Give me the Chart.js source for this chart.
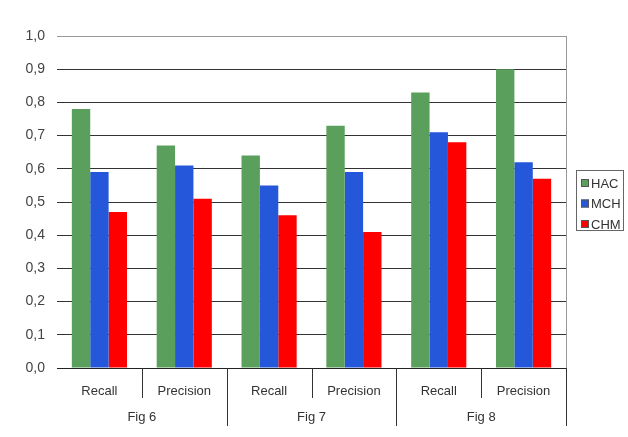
<!DOCTYPE html>
<html>
<head>
<meta charset="utf-8">
<script src="https://cdn.jsdelivr.net/npm/chart.js@4/dist/chart.umd.min.js"></script>
<style>
  html, body { margin: 0; padding: 0; background: #fff; }
  #wrap { width: 628px; height: 437px; }
</style>
</head>
<body>
<div id="wrap"><canvas id="c" width="628" height="437"></canvas></div>
<script>
// Sub-categories (inner axis row) and the figure each pair belongs to (outer row)
const categories = ['Recall', 'Precision', 'Recall', 'Precision', 'Recall', 'Precision'];
const groups = ['Fig 6', 'Fig 7', 'Fig 8'];

// Scores per method
const hac = [0.78, 0.67, 0.64, 0.73, 0.83, 0.90];
const mch = [0.59, 0.61, 0.55, 0.59, 0.71, 0.62];
const chm = [0.47, 0.51, 0.46, 0.41, 0.68, 0.57];

const yTicks = [0, 0.1, 0.2, 0.3, 0.4, 0.5, 0.6, 0.7, 0.8, 0.9, 1.0];

const FONT = '"Liberation Sans", Arial, sans-serif';

// Two-level category axis: separators below the axis and the group names
const groupAxis = {
  id: 'groupAxis',
  afterDraw(chart) {
    const { ctx, chartArea } = chart;
    const x = chart.scales.x;
    const n = categories.length;
    const bound = i => {
      if (i === 0) return chartArea.left;
      if (i === n) return chartArea.right;
      return (x.getPixelForValue(i - 1) + x.getPixelForValue(i)) / 2;
    };
    ctx.save();
    ctx.strokeStyle = '#333';
    ctx.lineWidth = 1;
    for (let i = 1; i <= n; i++) {
      const px = Math.round(bound(i)) + 0.5;
      const outer = i % 2 === 0;
      ctx.beginPath();
      ctx.moveTo(px, chartArea.bottom);
      ctx.lineTo(px, chartArea.bottom + (outer ? 58 : 30));
      ctx.stroke();
    }
    ctx.fillStyle = '#333';
    ctx.font = '13px ' + FONT;
    ctx.textAlign = 'center';
    ctx.textBaseline = 'middle';
    groups.forEach((g, k) => {
      const cx = (bound(2 * k) + bound(2 * k + 2)) / 2;
      ctx.fillText(g, cx, chartArea.bottom + 49);
    });
    // right frame of the plot area
    ctx.strokeStyle = '#999';
    ctx.beginPath();
    ctx.moveTo(Math.round(chartArea.right) + 0.5, chartArea.top);
    ctx.lineTo(Math.round(chartArea.right) + 0.5, chartArea.bottom);
    ctx.stroke();
    ctx.restore();
  }
};

// Boxed legend at the right
const boxLegend = {
  id: 'boxLegend',
  afterDraw(chart) {
    const { ctx } = chart;
    const bx = 576, by = 170, bw = 47, bh = 60;
    ctx.save();
    ctx.strokeStyle = '#666';
    ctx.lineWidth = 1;
    ctx.strokeRect(bx + 0.5, by + 0.5, bw, bh);
    ctx.font = '13px ' + FONT;
    ctx.textBaseline = 'middle';
    ctx.textAlign = 'left';
    chart.data.datasets.forEach((ds, i) => {
      const cy = by + 13 + i * 20.5;
      ctx.fillStyle = ds.backgroundColor;
      ctx.fillRect(bx + 5, cy - 4, 8, 8);
      ctx.strokeStyle = '#555';
      ctx.strokeRect(bx + 5.5, cy - 3.5, 7, 7);
      ctx.fillStyle = '#333';
      ctx.fillText(ds.label, bx + 15, cy + 1);
    });
    ctx.restore();
  }
};

new Chart(document.getElementById('c'), {
  type: 'bar',
  data: {
    labels: categories,
    datasets: [
      { label: 'HAC', data: hac, backgroundColor: '#5a9f5c' },
      { label: 'MCH', data: mch, backgroundColor: '#2457d9' },
      { label: 'CHM', data: chm, backgroundColor: '#ff0000' }
    ]
  },
  options: {
    responsive: false,
    animation: false,
    layout: { padding: { top: 36, right: 62, bottom: 0, left: 0 } },
    datasets: { bar: { categoryPercentage: 0.65, barPercentage: 1.0, borderWidth: 0 } },
    plugins: { legend: { display: false }, tooltip: { enabled: false } },
    scales: {
      x: {
        grid: { display: false },
        border: { display: true, color: '#222', width: 1 },
        ticks: { color: '#333', font: { family: FONT, size: 13 }, padding: 8 },
        afterFit(s) { s.height = 69; }
      },
      y: {
        min: 0,
        max: 1,
        afterBuildTicks(s) { s.ticks = yTicks.map(v => ({ value: v })); },
        ticks: {
          color: '#444',
          font: { family: FONT, size: 14 },
          padding: 12,
          callback: v => v.toFixed(1).replace('.', ',')
        },
        grid: {
          drawTicks: false,
          color: c => (c.tick && c.tick.value === 1 ? '#999' : '#333'),
          lineWidth: 1
        },
        border: { display: false },
        afterFit(s) { s.width = 57; }
      }
    }
  },
  plugins: [groupAxis, boxLegend]
});
</script>
</body>
</html>
